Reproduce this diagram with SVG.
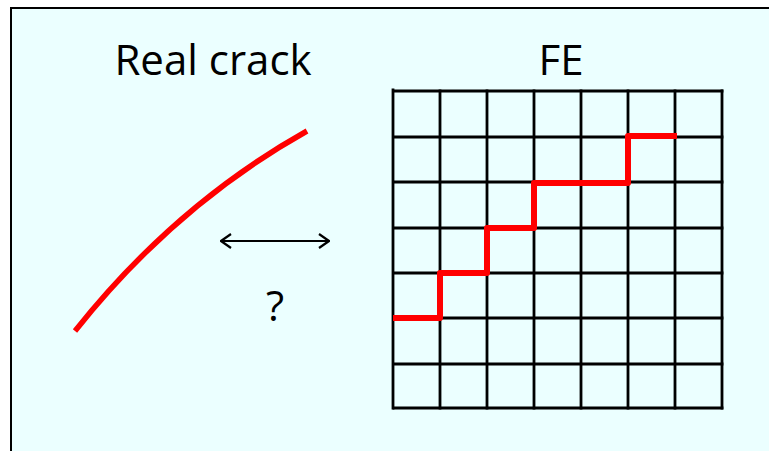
<svg xmlns="http://www.w3.org/2000/svg" width="769" height="451" viewBox="0 0 769 451">
  <defs>
    <style>
      .lbl { font-family: "Open Sans", "Liberation Sans", sans-serif; font-size: 42px; fill: #000; }
      .grid line { stroke: #000; stroke-width: 2.8; stroke-linecap: square; }
      .crack { fill: none; stroke: #ff0000; stroke-width: 5.5; }
    </style>
    <marker id="open" viewBox="0 0 12 16" refX="11" refY="8" markerWidth="12" markerHeight="16" markerUnits="userSpaceOnUse" orient="auto-start-reverse">
      <path d="M1,1 L11,8 L1,15" fill="none" stroke="#000" stroke-width="2.2"/>
    </marker>
  </defs>
  <rect x="0" y="0" width="769" height="451" fill="#ffffff"/>
  <rect id="frame" x="11" y="8" width="800" height="500" fill="#ebffff" stroke="#000" stroke-width="2"/>

  <g id="title-real">
    <text class="lbl" x="213" y="75" text-anchor="middle">Real crack</text>
  </g>
  <g id="title-fe">
    <text class="lbl" x="561" y="75" text-anchor="middle">FE</text>
  </g>

  <g id="real-crack">
    <path class="crack" d="M75,331 Q175,205 307,131"/>
  </g>

  <g id="connectors">
    <line x1="221" y1="241" x2="329" y2="241" stroke="#000" stroke-width="2.2" marker-start="url(#open)" marker-end="url(#open)"/>
  </g>

  <g id="question">
    <text class="lbl" x="275" y="321" text-anchor="middle" font-size="44">?</text>
  </g>

  <g id="fe-mesh" class="grid">
    <line x1="393" y1="90" x2="393" y2="408"/>
    <line x1="440" y1="91" x2="440" y2="408"/>
    <line x1="487" y1="91" x2="487" y2="408"/>
    <line x1="534" y1="91" x2="534" y2="408"/>
    <line x1="581" y1="91" x2="581" y2="408"/>
    <line x1="628" y1="91" x2="628" y2="408"/>
    <line x1="675" y1="91" x2="675" y2="408"/>
    <line x1="722" y1="91" x2="722" y2="408"/>
    <line x1="394" y1="91" x2="722" y2="91"/>
    <line x1="394" y1="137" x2="722" y2="137"/>
    <line x1="394" y1="182" x2="722" y2="182"/>
    <line x1="394" y1="228" x2="722" y2="228"/>
    <line x1="394" y1="273" x2="722" y2="273"/>
    <line x1="394" y1="318" x2="722" y2="318"/>
    <line x1="394" y1="364" x2="722" y2="364"/>
    <line x1="394" y1="408" x2="722" y2="408"/>
  </g>

  <g id="fe-crack">
    <path d="M393,318 H440 V273 H487 V228 H534 V183 H628 V136 H677" fill="none" stroke="#ff0000" stroke-width="6" stroke-linejoin="round"/>
  </g>
</svg>
